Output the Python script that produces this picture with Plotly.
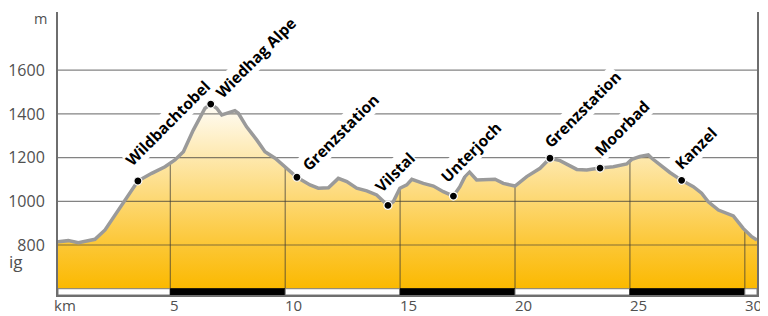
import numpy as np
import plotly.graph_objects as go

# ---- data ----
dist_km = [0.11, 0.56, 1.0, 1.72, 2.16, 2.59, 3.03, 3.39, 3.59, 4.19, 4.77, 5.2, 5.57, 6.0, 6.29, 6.51,
           6.76, 7.02, 7.24, 7.52, 7.81, 7.96, 8.32, 8.76, 9.12, 9.56, 9.99, 10.51, 11.08, 11.44, 11.88,
           12.02, 12.31, 12.68, 13.11, 13.55, 13.98, 14.47, 14.7, 14.99, 15.29, 15.51, 16.01, 16.45,
           16.88, 17.32, 17.6, 17.82, 18.01, 18.33, 18.77, 19.13, 19.49, 20.0, 20.51, 21.09, 21.52,
           21.96, 22.69, 23.12, 23.7, 24.28, 24.86, 25.08, 25.44, 25.8, 25.95, 26.31, 26.74, 27.25,
           27.76, 28.12, 28.41, 28.85, 29.28, 29.5, 29.93, 30.3, 30.53]
elev_m = [815, 820, 811, 826, 869, 937, 1006, 1067, 1093, 1128, 1158, 1189, 1227, 1326, 1387, 1426,
          1445, 1426, 1395, 1405, 1415, 1403, 1341, 1281, 1227, 1197, 1158, 1110, 1075, 1060, 1062,
          1075, 1105, 1090, 1060, 1048, 1029, 981, 998, 1060, 1075, 1101, 1082, 1070,
          1044, 1024, 1067, 1113, 1135, 1098, 1101, 1101, 1082, 1070, 1113, 1151, 1197,
          1186, 1146, 1143, 1152, 1158, 1171, 1192, 1205, 1212, 1197, 1166, 1132, 1096,
          1067, 1037, 998, 960, 942, 933, 876, 838, 823]

wp_names = ["Wildbachtobel", "Wiedhag Alpe", "Grenzstation", "Vilstal", "Unterjoch",
            "Grenzstation", "Moorbad", "Kanzel"]
wp_km = [3.59, 6.76, 10.51, 14.47, 17.32, 21.52, 23.70, 27.25]
wp_elev = [1093, 1445, 1110, 981, 1024, 1197, 1152, 1096]

y_ticks = [800, 1000, 1200, 1400, 1600]
x_ticks = [5, 10, 15, 20, 25, 30]
x_tick_labels = ["5", "10", "15", "20", "25", "30"]

# ---- layout constants ----
X_RANGE = [0.113, 30.53]
Y_RANGE = [571.2, 1866.4]
BASE = 600
AXIS_COL = "#6e6e6e"
TEXT_COL = "#505050"
FONT = "Open Sans"

# per-label glyph offsets from the dot (px, screen coords)
label_off = [(-9, -12), (8, -3), (9, -4), (-9, -10), (-9, -11), (-2, -8), (-2, -9), (-3, -8)]

fig = go.Figure()

# baseline for fill
fig.add_trace(go.Scatter(x=[dist_km[0], dist_km[-1]], y=[BASE, BASE], mode="lines",
                         line=dict(width=0), hoverinfo="skip", showlegend=False))
# gradient fill
fig.add_trace(go.Scatter(x=dist_km, y=elev_m, mode="lines", line=dict(width=0),
                         fill="tonexty",
                         fillgradient=dict(type="vertical",
                                           colorscale=[[0, "#FBB900"], [0.25, "#FCC83A"], [1, "#FFFFFF"]],
                                           start=BASE, stop=1470),
                         hoverinfo="skip", showlegend=False))

# horizontal grid lines
gx, gy = [], []
for v in y_ticks:
    gx += [X_RANGE[0], X_RANGE[1], None]
    gy += [v, v, None]
fig.add_trace(go.Scatter(x=gx, y=gy, mode="lines", line=dict(color="rgba(55,55,55,0.62)", width=1.2),
                         hoverinfo="skip", showlegend=False))
# vertical grid lines (only under the profile)
top = np.interp(x_ticks, dist_km, elev_m)
vx, vy = [], []
for t, h in zip(x_ticks, top):
    vx += [t, t, None]
    vy += [BASE, h, None]
fig.add_trace(go.Scatter(x=vx, y=vy, mode="lines", line=dict(color="rgba(55,55,55,0.62)", width=1.2),
                         hoverinfo="skip", showlegend=False))

# profile line
fig.add_trace(go.Scatter(x=dist_km, y=elev_m, mode="lines",
                         line=dict(color="#9a9a9a", width=3.5), hoverinfo="skip", showlegend=False))
# waypoints
fig.add_trace(go.Scatter(x=wp_km, y=wp_elev, mode="markers",
                         marker=dict(color="black", size=8, line=dict(color="white", width=1.2)),
                         hoverinfo="skip", showlegend=False))

annotations = []
for name, xk, yk, (dx, dy) in zip(wp_names, wp_km, wp_elev, label_off):
    annotations.append(dict(x=xk, y=yk, xref="x", yref="y", text=name, showarrow=False,
                            textangle=-45, xanchor="left", yanchor="bottom",
                            xshift=dx - 10, yshift=-(dy + 3),
                            bgcolor="white", borderpad=0,
                            font=dict(family=FONT, size=15.5, color="black", weight="bold")))

# x tick labels (left aligned at tick)
for t, lab in zip(x_ticks, x_tick_labels):
    annotations.append(dict(x=t, y=0, xref="x", yref="paper", text=lab, showarrow=False,
                            xanchor="left", yanchor="top", xshift=-1, yshift=1, borderpad=0,
                            font=dict(family=FONT, size=15, color=TEXT_COL)))
annotations.append(dict(x=X_RANGE[0], y=0, xref="x", yref="paper", text="km", showarrow=False,
                        xanchor="left", yanchor="top", xshift=-5, yshift=1, borderpad=0,
                        font=dict(family=FONT, size=15, color=TEXT_COL)))
annotations.append(dict(x=0, y=1, xref="paper", yref="paper", text="m", showarrow=False,
                        xanchor="right", yanchor="top", xshift=-10, yshift=4, borderpad=0,
                        font=dict(family=FONT, size=14.5, color=TEXT_COL)))
annotations.append(dict(x=0, y=0.12, xref="paper", yref="paper", text="ig", showarrow=False,
                        xanchor="left", yanchor="middle", xshift=-50, borderpad=0,
                        font=dict(family=FONT, size=17, color=TEXT_COL)))

# km bar
shapes = []
edges = [X_RANGE[0]] + x_ticks + [X_RANGE[1]]
for i in range(len(edges) - 1):
    black = i % 2 == 1
    shapes.append(dict(type="rect", xref="x", yref="y", x0=edges[i], x1=edges[i + 1],
                       y0=Y_RANGE[0], y1=BASE, layer="above",
                       fillcolor="black" if black else "white",
                       line=dict(color="black" if black else "#7a7a7a", width=1)))

# page body has an 8px margin: figure is 760x308 and margins are reduced accordingly
fig.update_layout(
    width=760, height=308,
    margin=dict(l=50, r=11, t=4, b=21, autoexpand=False),
    paper_bgcolor="white", plot_bgcolor="white",
    showlegend=False,
    xaxis=dict(range=X_RANGE, showgrid=False, zeroline=False, showticklabels=False,
               showline=True, linecolor=AXIS_COL, linewidth=2, ticks="", automargin=False),
    yaxis=dict(range=Y_RANGE, tickvals=y_ticks, showgrid=False, zeroline=False,
               showline=True, mirror=True, linecolor=AXIS_COL, linewidth=2, ticks="",
               ticklabelstandoff=8, automargin=False,
               tickfont=dict(family=FONT, size=16, color=TEXT_COL)),
    annotations=annotations,
    shapes=shapes,
)

fig.write_html("out.html")
